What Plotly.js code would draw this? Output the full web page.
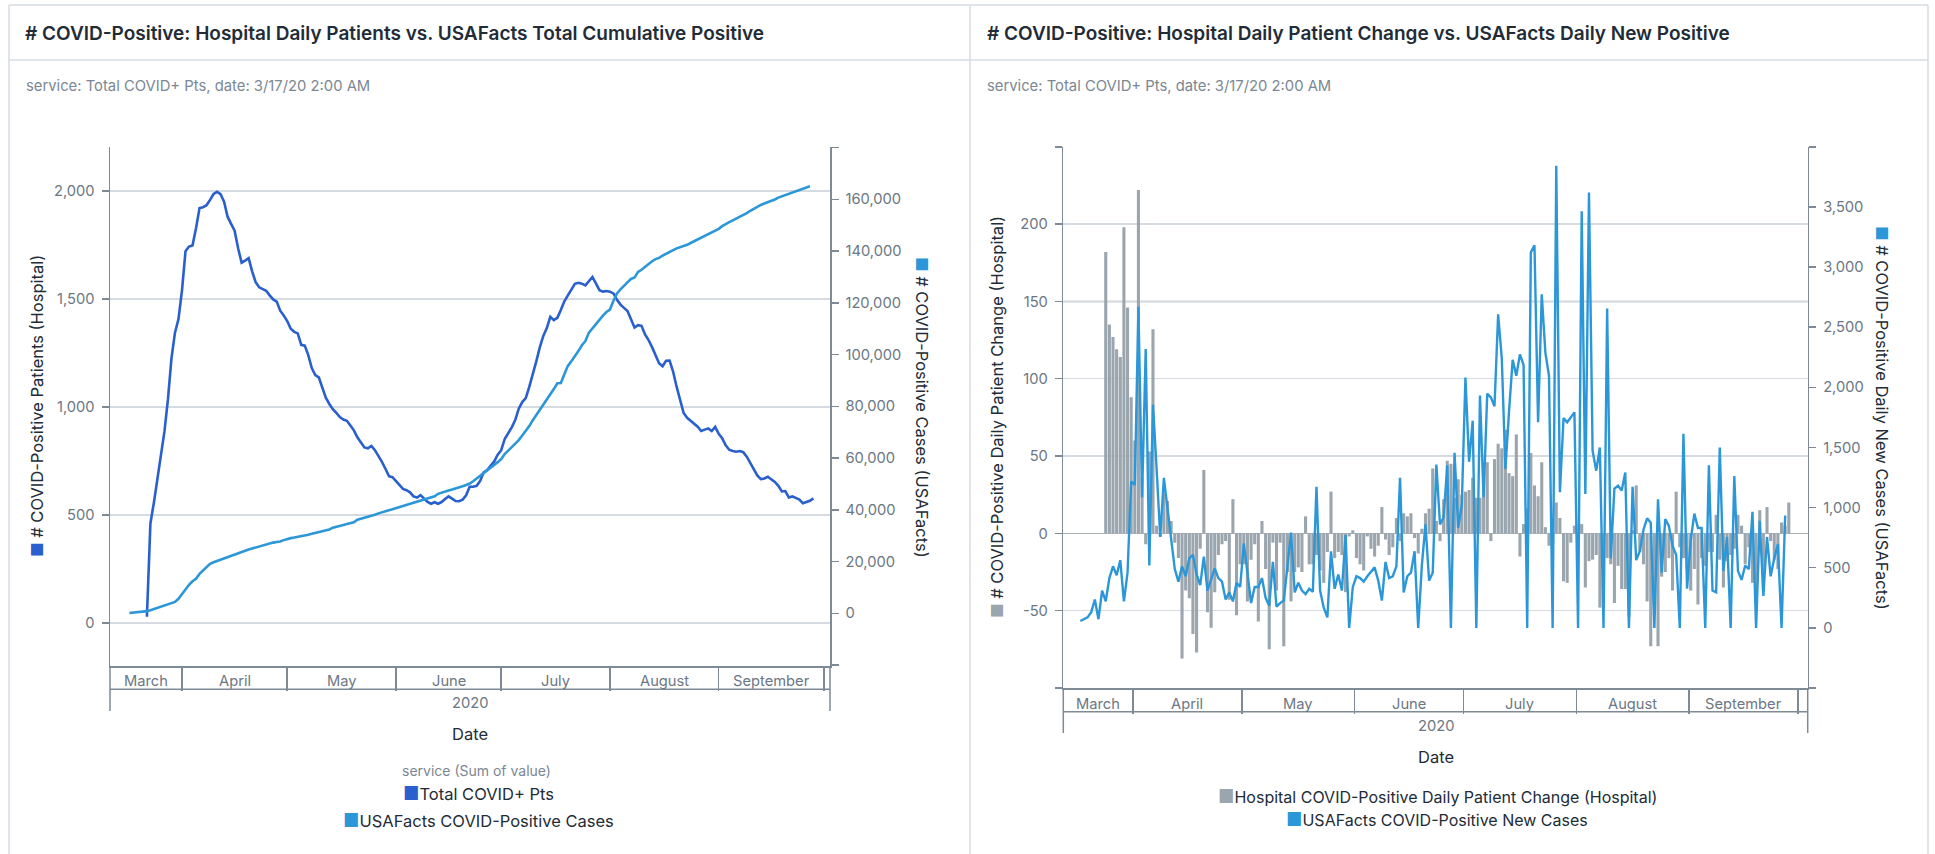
<!DOCTYPE html>
<html><head><meta charset="utf-8">
<script src="https://cdn.plot.ly/plotly-3.0.1.min.js"></script>
<style>html,body{margin:0;padding:0;background:#fff;overflow:hidden;} #chart{width:1935px;height:854px;}</style>
</head><body><div id="chart"></div>
<script>
// ---------------- DATA ----------------
const hospStart = '2020-03-22';
const hospitalTotal = [28,460,557,667,777,886,1034,1224,1343,1406,
1539,1720,1742,1747,1827,1920,1924,1933,1958,1985,
1995,1984,1949,1880,1847,1815,1734,1667,1677,1688,
1627,1577,1553,1543,1537,1516,1497,1487,1445,1423,
1397,1361,1347,1340,1287,1283,1239,1179,1147,1136,
1090,1042,1013,989,972,952,941,935,913,891,
859,835,812,808,819,799,773,745,713,679,
674,655,635,620,614,604,585,580,591,575,
559,551,558,551,559,573,585,575,564,563,
570,590,630,630,634,657,696,707,726,747,
778,799,851,878,905,939,991,1022,1040,1092,
1148,1210,1275,1328,1364,1416,1401,1412,1448,1488,
1516,1545,1569,1574,1570,1562,1584,1601,1571,1540,
1533,1536,1533,1525,1495,1473,1458,1443,1405,1367,
1378,1375,1335,1309,1276,1241,1202,1188,1213,1214,
1163,1093,1033,971,949,935,925,908,888,893,
900,888,907,875,854,822,801,795,792,795,
790,769,739,713,682,665,668,676,664,652,
634,608,610,580,585,578,570,553,560,565,
576];

const cumStart = '2020-03-17';
const usafactsCumulative = [100,200,260,410,580,830,1190,1630,2040,2490,
2940,3350,3690,4390,5610,7510,9220,11030,12380,13360,
15220,16410,17740,19090,19740,20250,20720,21260,21790,22260,
22730,23210,23710,24250,24690,25030,25450,25930,26350,26750,
27050,27320,27530,27740,28280,28790,29050,29260,29480,29750,
30040,30380,30720,31060,31320,31530,31890,32390,33110,33530,
33840,34160,34470,34790,35140,36150,36490,36830,37170,37570,
38110,38620,39100,39510,39840,40220,40640,41040,41440,41850,
42250,42720,43190,43540,43870,44220,44600,45230,46180,46710,
47090,47500,47870,48210,48620,49100,49610,50160,51030,52050,
53170,54330,55240,56120,57260,58420,59600,61530,62890,64240,
65600,66950,68720,70520,72340,74600,76590,78390,80200,82690,
84660,86650,88910,89010,92400,95630,97440,99240,101330,103580,
105200,108490,110230,111590,113390,115040,116420,117390,120780,123640,
125180,126400,127940,129220,129750,131920,132780,133930,135050,136060,
136900,137350,138200,139000,139680,140350,141030,141480,141830,142420,
143100,143780,144450,145130,145810,146480,147160,147840,148600,149610,
150510,151190,151860,152540,153210,153890,154690,155570,156400,157220,
157810,158350,158830,159300,159920,160640,161110,161600,162140,162680,
163220,163740,164210,164640,165010];

const changeStart = '2020-03-24';
const hospitalDailyChange = [182,135,127,119,114,198,146,88,60,222,
36,-7,53,132,5,-2,26,21,8,-6,
-16,-81,-37,-42,-65,-77,-10,41,-51,-61,
-38,-14,-7,-5,-43,22,-53,-20,-20,-44,
-17,-7,-57,8,-23,-75,-6,-37,-6,-73,
-25,-44,-25,-22,-25,11,-20,-20,-14,-24,
-32,-12,27,-16,-12,-14,-38,-2,2,-16,
-20,-24,-2,-10,-15,-8,17,-4,-14,-9,
10,-5,13,11,13,-3,-13,3,13,16,
42,8,-5,22,47,45,23,35,25,27,
28,36,23,23,45,46,-5,48,58,55,
67,39,37,64,-15,6,16,52,31,24,
46,4,-8,-6,20,10,-31,-32,-6,5,
-7,6,-35,-18,-17,-14,-48,-42,-16,-20,
-45,-21,-36,-36,-54,2,31,-12,-20,-44,
-73,-46,-73,-28,-25,-16,-37,27,-9,-16,
-23,-37,-23,-46,-16,-21,-12,-12,12,-17,
-35,-18,-14,-10,12,5,-20,-9,-32,-37,
15,-37,17,-5,-17,-23,7,5,20];

const newStart = '2020-03-17';
const usafactsNewCases = [57,72,87,131,236,72,310,221,414,512,
438,563,221,459,1218,1188,2670,1084,2319,518,
1857,1322,756,1247,994,697,489,384,512,429,
578,608,444,355,593,310,399,494,414,384,
236,295,220,375,340,703,459,206,340,340,
414,250,185,548,176,206,227,503,792,295,
375,310,280,325,300,1173,310,167,87,637,
325,444,310,771,0,340,429,414,384,429,
468,503,393,227,548,414,429,512,1247,295,
429,459,637,0,518,860,393,459,1358,860,
920,1352,0,1456,831,1024,2081,1381,1723,0,
1932,1084,1947,1917,1843,2607,2244,1322,1800,2229,
2096,2274,2185,0,3122,3182,1709,2774,2289,2096,
0,3842,1128,1744,1709,1750,1792,0,3464,1113,
3619,1471,1307,1500,0,2655,578,1158,1182,1143,
1292,0,1173,563,637,816,911,875,0,1069,
459,905,846,682,608,0,1613,325,727,950,
831,831,0,1352,310,295,1500,474,756,0,
1262,474,399,518,488,965,0,890,265,756,
429,578,697,0,935];

const monthNames = ['March','April','May','June','July','August','September'];
const monthStarts = ['2020-03-01','2020-04-01','2020-05-01','2020-06-01','2020-07-01','2020-08-01','2020-09-01','2020-10-01'];
const yearLabel = '2020';
const leftTickVals2 = [-20000,0,20000,40000,60000,80000,100000,120000,140000,160000,180000];
const leftTickText2 = ['','0','20,000','40,000','60,000','80,000','100,000','120,000','140,000','160,000',''];
const rightTickVals1 = [-100,-50,0,50,100,150,200,250];
const rightTickText1 = ['','-50','0','50','100','150','200',''];
const rightTickVals2 = [-500,0,500,1000,1500,2000,2500,3000,3500,4000];
const rightTickText2 = ['','0','500','1,000','1,500','2,000','2,500','3,000','3,500',''];

// ---------------- HELPERS ----------------
const W = 1935, H = 854;
const px = x => x / W, py = y => 1 - y / H;
const DAY = 86400000;
function dailyDates(start, n) {
  const t0 = Date.parse(start + 'T00:00:00Z'); const out = [];
  for (let i = 0; i < n; i++) out.push(new Date(t0 + i * DAY).toISOString().slice(0, 10));
  return out;
}
const toMs = s => Date.parse(s.replace(' ', 'T') + (s.length > 10 ? ':00Z' : 'T00:00:00Z'));
const msStr = m => new Date(m).toISOString().replace('T', ' ').replace('Z', '');

const FONT = 'Inter, Roboto, "Noto Sans", sans-serif';
const AXIS = '#7e8a96', GRID = '#d5dbe1', TICKTXT = '#6b7784', DARK = '#222c37', MUTED = '#7b8793', BORDER = '#d6dde4';
const C_HOSP = '#2a5fce', C_USA = '#2c97d8', C_BAR = '#9aa5ae';

const leftRange = ['2020-03-11 11:30', '2020-10-02 17:30'];
const rightRange = ['2020-03-12 19:40', '2020-10-03 16:50'];

// ---------------- TRACES ----------------
const traces = [
  {type:'scatter', mode:'lines', name:'Total COVID+ Pts', x:dailyDates(hospStart, hospitalTotal.length), y:hospitalTotal,
   xaxis:'x', yaxis:'y', line:{color:C_HOSP, width:2.6}, hoverinfo:'skip'},
  {type:'scatter', mode:'lines', name:'USAFacts COVID-Positive Cases', x:dailyDates(cumStart, usafactsCumulative.length), y:usafactsCumulative,
   xaxis:'x', yaxis:'y2', line:{color:C_USA, width:2.6}, hoverinfo:'skip'},
  {type:'bar', name:'Hospital COVID-Positive Daily Patient Change (Hospital)', x:dailyDates(changeStart, hospitalDailyChange.length), y:hospitalDailyChange,
   xaxis:'x2', yaxis:'y3', marker:{color:C_BAR}, xperiod:DAY, xperiodalignment:'middle', hoverinfo:'skip'},
  {type:'scatter', mode:'lines', name:'USAFacts COVID-Positive New Cases', x:dailyDates(newStart, usafactsNewCases.length), y:usafactsNewCases,
   xaxis:'x2', yaxis:'y4', line:{color:C_USA, width:2.4}, xperiod:DAY, xperiodalignment:'middle', hoverinfo:'skip'}
];

// ---------------- AXES ----------------
const tickFont = {family:FONT, size:14.7, color:TICKTXT};
const baseY = {showline:true, linecolor:AXIS, linewidth:1.5, ticks:'outside', ticklen:7, tickwidth:1.5, tickcolor:AXIS,
  ticklabelstandoff:4, zeroline:false, tickfont:tickFont, fixedrange:true};
const baseX = {type:'date', showline:true, linecolor:AXIS, linewidth:1.5, ticks:'outside', tickwidth:1.5, tickcolor:AXIS,
  tick0:'2020-03-01', dtick:'M1', showticklabels:false, showgrid:false, zeroline:false, fixedrange:true};

const layout = {
  width: W, height: H, margin:{l:0,r:0,t:0,b:0,pad:0}, paper_bgcolor:'#ffffff', plot_bgcolor:'rgba(0,0,0,0)',
  showlegend:false, font:{family:FONT}, bargap:0.15,
  xaxis: Object.assign({}, baseX, {domain:[px(110), px(830)], range:leftRange, anchor:'y', ticklen:23}),
  yaxis: Object.assign({}, baseY, {domain:[py(666), py(146.7)], anchor:'x', range:[-200, 2204], tickmode:'linear', tick0:0, dtick:500,
    tickformat:',d', showgrid:true, gridcolor:GRID, gridwidth:1.5}),
  yaxis2: Object.assign({}, baseY, {overlaying:'y', side:'right', anchor:'x', range:[-20370, 180330], tickmode:'array',
    tickvals:leftTickVals2, ticktext:leftTickText2, showgrid:false}),
  xaxis2: Object.assign({}, baseX, {domain:[px(1063.3), px(1807.7)], range:rightRange, anchor:'y3', ticklen:24}),
  yaxis3: Object.assign({}, baseY, {domain:[py(688), py(146.8)], anchor:'x2', range:[-100, 250], tickmode:'array',
    tickvals:rightTickVals1, ticktext:rightTickText1, showgrid:true, gridcolor:GRID, gridwidth:1.5,
    zeroline:true, zerolinecolor:'#aab3bb', zerolinewidth:1.5}),
  yaxis4: Object.assign({}, baseY, {overlaying:'y3', side:'right', anchor:'x2', range:[-500, 4000], tickmode:'array',
    tickvals:rightTickVals2, ticktext:rightTickText2, showgrid:false})
};

// ---------------- SHAPES (frames & axis boxes) ----------------
function hline(x0, x1, y, color, w) { return {type:'line', xref:'paper', yref:'paper', x0:px(x0), x1:px(x1), y0:py(y), y1:py(y), line:{color:color, width:w}}; }
function vline(x, y0, y1, color, w) { return {type:'line', xref:'paper', yref:'paper', x0:px(x), x1:px(x), y0:py(y0), y1:py(y1), line:{color:color, width:w}}; }
layout.shapes = [
  hline(9, 1928, 5, BORDER, 1.5), hline(9, 1928, 60, BORDER, 1.5),
  vline(9, 5, 854, BORDER, 1.5), vline(970, 5, 854, BORDER, 1.5), vline(1928, 5, 854, BORDER, 1.5),
  hline(110, 830, 689.3, AXIS, 1.5), vline(110, 666, 711, AXIS, 1.5), vline(830, 666, 711, AXIS, 1.5),
  hline(1063.3, 1807.7, 711.7, AXIS, 1.5), vline(1063.3, 688, 733, AXIS, 1.5), vline(1807.7, 688, 733, AXIS, 1.5),
  {type:'line', layer:'below', xref:'paper', yref:'y3', x0:px(1063.3), x1:px(1807.7), y0:150, y1:150, line:{color:'#98a2ac', width:1.5}}
];

// ---------------- ANNOTATIONS ----------------
function txt(x, y, text, opt) {
  return Object.assign({xref:'paper', yref:'paper', x:px(x), y:py(y), text:text, showarrow:false, xanchor:'left', yanchor:'middle',
    font:{family:FONT, size:14, color:DARK}}, opt || {});
}
const sq = (c, s) => '<span style="color:' + c + ';font-size:' + (s || 17) + 'px">■</span>';
const ann = [];
// panel titles & subtitles
ann.push(txt(23, 33, '# COVID-Positive: Hospital Daily Patients vs. USAFacts Total Cumulative Positive', {font:{family:FONT, size:19, color:DARK, weight:600}}));
ann.push(txt(985, 33, '# COVID-Positive: Hospital Daily Patient Change vs. USAFacts Daily New Positive', {font:{family:FONT, size:19, color:DARK, weight:600}}));
ann.push(txt(24, 86, 'service: Total COVID+ Pts, date: 3/17/20 2:00 AM', {font:{family:FONT, size:14.8, color:MUTED}}));
ann.push(txt(985, 86, 'service: Total COVID+ Pts, date: 3/17/20 2:00 AM', {font:{family:FONT, size:14.8, color:MUTED}}));
// axis titles
const atFont = {family:FONT, size:16.5, color:DARK};
ann.push(txt(37, 406, sq(C_HOSP, 16) + ' # COVID-Positive Patients (Hospital)', {textangle:-90, xanchor:'center', font:atFont}));
ann.push(txt(922, 407, sq(C_USA, 16) + ' # COVID-Positive Cases (USAFacts)', {textangle:90, xanchor:'center', font:atFont}));
ann.push(txt(997, 417, sq(C_BAR, 16) + ' # COVID-Positive Daily Patient Change (Hospital)', {textangle:-90, xanchor:'center', font:atFont}));
ann.push(txt(1882, 418, sq(C_USA, 16) + ' # COVID-Positive Daily New Cases (USAFacts)', {textangle:90, xanchor:'center', font:atFont}));
// month labels
function monthAnn(xref, range, y) {
  const r0 = toMs(range[0]), r1 = toMs(range[1]);
  monthNames.forEach((m, i) => {
    const a = Math.max(toMs(monthStarts[i]), r0), b = Math.min(toMs(monthStarts[i + 1]), r1);
    if (b <= a) return;
    ann.push({xref:xref, yref:'paper', x:msStr((a + b) / 2), y:py(y), text:m, showarrow:false, xanchor:'center', yanchor:'middle',
      font:{family:FONT, size:14.7, color:TICKTXT}});
  });
  ann.push({xref:xref, yref:'paper', x:msStr((r0 + r1) / 2), y:py(y + 22.5), text:yearLabel, showarrow:false, xanchor:'center', yanchor:'middle',
    font:{family:FONT, size:14.7, color:TICKTXT}});
}
monthAnn('x', leftRange, 680.5);
monthAnn('x2', rightRange, 703.5);
// x titles
ann.push(txt(470, 734, 'Date', {xanchor:'center', font:{family:FONT, size:16.5, color:DARK}}));
ann.push(txt(1435.5, 757, 'Date', {xanchor:'center', font:{family:FONT, size:16.5, color:DARK}}));
// legends
ann.push(txt(476, 770, 'service (Sum of value)', {xanchor:'center', font:{family:FONT, size:14, color:MUTED}}));
ann.push(txt(478, 793, sq(C_HOSP, 18) + 'Total COVID+ Pts', {xanchor:'center', font:{family:FONT, size:16.5, color:DARK}}));
ann.push(txt(478, 820, sq(C_USA, 18) + 'USAFacts COVID-Positive Cases', {xanchor:'center', font:{family:FONT, size:16.5, color:DARK}}));
ann.push(txt(1437, 796, sq(C_BAR, 18) + 'Hospital COVID-Positive Daily Patient Change (Hospital)', {xanchor:'center', font:{family:FONT, size:16, color:DARK}}));
ann.push(txt(1437, 819, sq(C_USA, 18) + 'USAFacts COVID-Positive New Cases', {xanchor:'center', font:{family:FONT, size:16, color:DARK}}));
layout.annotations = ann;

Plotly.newPlot('chart', traces, layout, {staticPlot:true, displayModeBar:false});
</script>
</body></html>
